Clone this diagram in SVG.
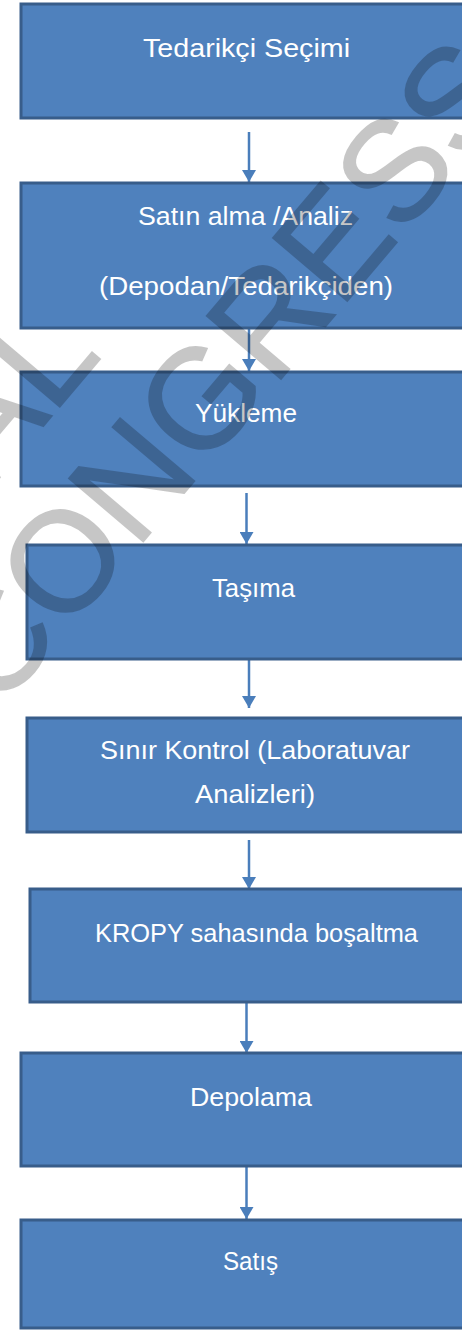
<svg xmlns="http://www.w3.org/2000/svg" width="462" height="1331" viewBox="0 0 462 1331">
<style>
.box{fill:#4f81bd;stroke:#385d8a;stroke-width:3}
.lbl{font-family:"Liberation Sans","Open Sans",sans-serif;font-size:26px;fill:#ffffff;text-anchor:middle}
.edge{stroke:#4a7ebb;stroke-width:2.5;fill:none}
.wm{font-family:"Liberation Sans","DejaVu Sans",sans-serif;font-size:142px;fill:#000000;stroke:#000000;stroke-width:1.5}
</style>
<defs>
<marker id="arr" markerUnits="userSpaceOnUse" markerWidth="16" markerHeight="14" refX="12" refY="7" orient="auto">
<path d="M0,0 L12,7 L0,14 Z" fill="#4a7ebb"/>
</marker>
</defs>
<rect width="462" height="1331" fill="#ffffff"/>
<g id="connectors">
<line class="edge" x1="249" y1="132" x2="249" y2="182" marker-end="url(#arr)"/>
<line class="edge" x1="249" y1="329" x2="249" y2="371" marker-end="url(#arr)"/>
<line class="edge" x1="246.5" y1="493" x2="246.5" y2="544" marker-end="url(#arr)"/>
<line class="edge" x1="249" y1="660" x2="249" y2="708" marker-end="url(#arr)"/>
<line class="edge" x1="249" y1="840" x2="249" y2="889" marker-end="url(#arr)"/>
<line class="edge" x1="246.5" y1="1003" x2="246.5" y2="1053" marker-end="url(#arr)"/>
<line class="edge" x1="246.5" y1="1167" x2="246.5" y2="1219" marker-end="url(#arr)"/>
</g>
<g id="n1">
<rect class="box" x="21" y="4" width="450" height="114"/>
<text class="lbl" x="246.5" y="57" textLength="207" lengthAdjust="spacingAndGlyphs">Tedarikçi Seçimi</text>
</g>
<g id="n2">
<rect class="box" x="21" y="183" width="450" height="145"/>
<text class="lbl" x="245.5" y="225" textLength="215" lengthAdjust="spacingAndGlyphs">Satın alma /Analiz</text>
<text class="lbl" x="246" y="295" textLength="294" lengthAdjust="spacingAndGlyphs">(Depodan/Tedarikçiden)</text>
</g>
<g id="n3">
<rect class="box" x="21" y="372" width="450" height="114"/>
<text class="lbl" x="246" y="422" textLength="102" lengthAdjust="spacingAndGlyphs">Yükleme</text>
</g>
<g id="n4">
<rect class="box" x="27" y="545" width="450" height="114"/>
<text class="lbl" x="253.5" y="597" textLength="83" lengthAdjust="spacingAndGlyphs">Taşıma</text>
</g>
<g id="n5">
<rect class="box" x="27" y="718" width="450" height="114"/>
<text class="lbl" x="255" y="759" textLength="310" lengthAdjust="spacingAndGlyphs">Sınır Kontrol (Laboratuvar</text>
<text class="lbl" x="255" y="803" textLength="120" lengthAdjust="spacingAndGlyphs">Analizleri)</text>
</g>
<g id="n6">
<rect class="box" x="30" y="889" width="450" height="113"/>
<text class="lbl" x="256.5" y="942" textLength="323" lengthAdjust="spacingAndGlyphs">KROPY sahasında boşaltma</text>
</g>
<g id="n7">
<rect class="box" x="21" y="1053" width="450" height="113"/>
<text class="lbl" x="251" y="1106" textLength="122" lengthAdjust="spacingAndGlyphs">Depolama</text>
</g>
<g id="n8">
<rect class="box" x="21" y="1220" width="450" height="108"/>
<text class="lbl" x="250.5" y="1270" textLength="55" lengthAdjust="spacingAndGlyphs">Satış</text>
</g>
<g id="watermark" opacity="0.22">
<text class="wm" transform="translate(-2,713) rotate(-49.7)">CONGRESS</text>
<text class="wm" transform="translate(-9,488) rotate(-49.7)">AL</text>
</g>
</svg>
